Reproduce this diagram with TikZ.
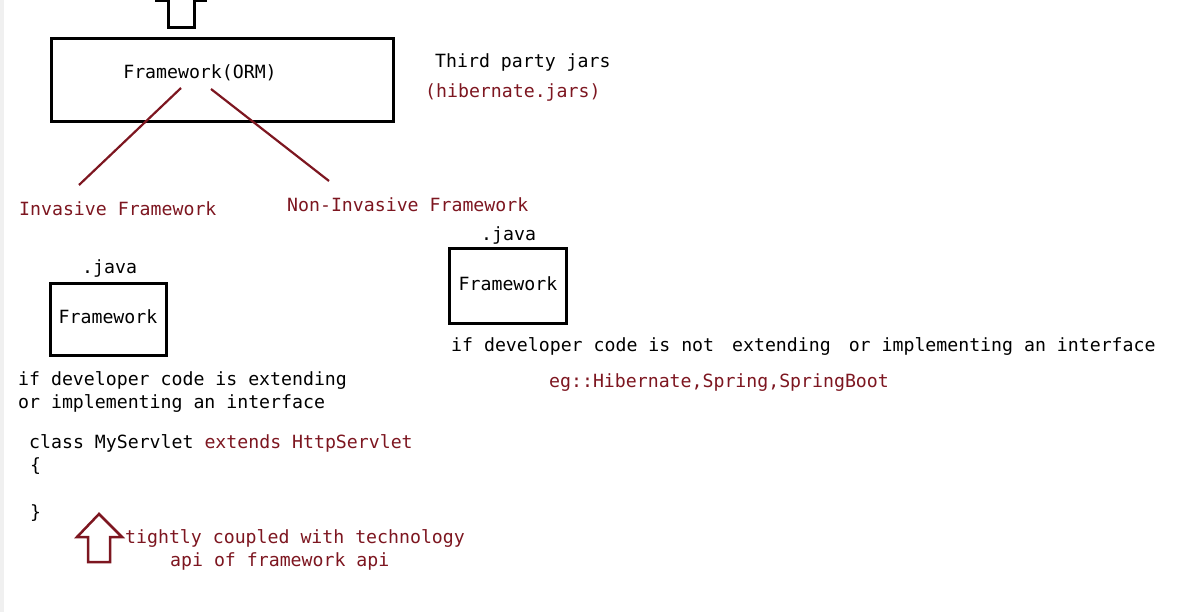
\documentclass[tikz,border=0pt]{standalone}
\usepackage{fontspec}
\setmonofont{DejaVu Sans Mono}
\usetikzlibrary{positioning}
\definecolor{darkred}{RGB}{125,22,32}

\tikzset{
  txt/.style={anchor=west, inner sep=0pt, font=\ttfamily\fontsize{18.2}{21}\selectfont},
  redtxt/.style={txt, text=darkred},
  fwbox/.style={draw, rectangle, line width=3pt, inner sep=0pt},
  redline/.style={draw=darkred, line width=2.2pt}
}

\begin{document}
\begin{tikzpicture}[x=1pt, y=-1pt]
    \useasboundingbox (0,0) rectangle (1204,612);
    \fill[gray!12] (0,0) rectangle (4,612);

    % Top arrow shaft
    \draw[line width=3pt] (155,1) -- (168,1) -- (168,28) -- (194,28) -- (194,1) -- (207,1);

    % ORM box
    \node [fwbox, minimum width=342pt, minimum height=83pt] (orm) at (222,80.5) {};
    \node [txt, anchor=center] (ormlbl) at (200,73) {Framework(ORM)};
    \node [txt] (third) at (435,62) {Third party jars};
    \node [redtxt] (jars) at (425,92) {(hibernate.jars)};

    % Branches
    \coordinate (invtop) at (181,88);
    \coordinate (noninvtop) at (211,89);
    \node [redtxt] (inv) at (19,209) {Invasive Framework};
    \node [redtxt] (noninv) at (287,205) {Non-Invasive Framework};
    \coordinate (invend) at (79,185);
    \coordinate (noninvend) at (329,181);
    \draw [redline] (invtop) -- (invend);
    \draw [redline] (noninvtop) -- (noninvend);

    % Invasive side
    \node [txt] (java1) at (82,268) {.java};
    \node [fwbox, minimum width=116pt, minimum height=72pt] (fw1) at (108,319) {};
    \node [txt, anchor=center] at (108,317) {Framework};
    \node [txt] (cond1) at (18,380) {if developer code is extending};
    \node [txt] (cond2) at (18,403) {or implementing an interface};
    \node [txt] (cls) at (29,443) {class MyServlet \textcolor{darkred}{extends HttpServlet}};
    \node [txt] (lbrace) at (30,466) {\{};
    \node [txt] (rbrace) at (30,513) {\}};

    % Red up arrow
    \draw [darkred, line width=2.5pt, line join=miter] (99,514) -- (122,537) -- (110,537) -- (110,562)
        -- (88,562) -- (88,537) -- (77,537) -- cycle;
    \node [redtxt] (tight) at (125,538) {tightly coupled with technology};
    \node [redtxt] (apiof) at (170,561) {api of framework api};

    % Non-invasive side
    \node [txt] (java2) at (481,235) {.java};
    \node [fwbox, minimum width=117pt, minimum height=74pt] (fw2) at (507.5,286) {};
    \node [txt, anchor=center] at (508,284) {Framework};
    \node [txt] (cond3) at (451,346) {if developer code is not\hspace{18pt}extending\hspace{18pt}or implementing an interface};
    \node [redtxt] (eg) at (549,383) {eg::Hibernate,Spring,SpringBoot};
\end{tikzpicture}
\end{document}
